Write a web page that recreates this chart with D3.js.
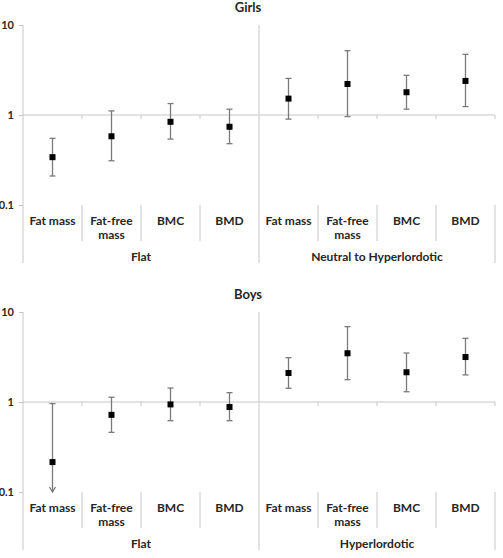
<!DOCTYPE html>
<html><head><meta charset="utf-8">
<script src="https://cdn.jsdelivr.net/npm/d3@7"></script>
<style>
body{margin:0;background:#fff;}
text{font-family:Lato,"Open Sans",sans-serif;font-weight:bold;fill:#262626;}
</style></head>
<body><svg id="c" width="503" height="558"></svg>
<script>
const categories = ["Fat mass", "Fat-free mass", "BMC", "BMD"];
const yTicks = [0.1, 1, 10];
const tickLabels = ["0.1", "1", "10"];

const girlsGroups = ["Flat", "Neutral to Hyperlordotic"];
const girlsOR    = [0.34, 0.58, 0.84, 0.74, 1.52, 2.21, 1.79, 2.39];
const girlsLow   = [0.21, 0.31, 0.54, 0.48, 0.90, 0.96, 1.16, 1.24];
const girlsHigh  = [0.55, 1.11, 1.34, 1.16, 2.55, 5.18, 2.76, 4.72];
const girlsArrow = [false, false, false, false, false, false, false, false];

const boysGroups = ["Flat", "Hyperlordotic"];
const boysOR    = [0.215, 0.72, 0.94, 0.88, 2.10, 3.48, 2.14, 3.16];
const boysLow   = [0.10, 0.46, 0.62, 0.62, 1.42, 1.77, 1.30, 2.00];
const boysHigh  = [0.96, 1.13, 1.43, 1.27, 3.11, 6.88, 3.50, 5.10];
const boysArrow = [true, false, false, false, false, false, false, false];

const svg = d3.select("#c");

function panel(title, groups, or, lo, hi, arrow, top) {
  const g = svg.append("g");
  const x0 = 23, x1 = 495;
  const keys = [];
  groups.forEach(gr => categories.forEach(c => keys.push(gr + "|" + c)));
  const x = d3.scaleBand().domain(keys).range([x0, x1]).padding(0);
  const y = d3.scaleLog().domain([0.1, 10]).range([top + 180, top]);
  const bottom = y(0.1);
  const grey = "#c6c6c6";
  const eb = "#7a7a7a";

  // title
  g.append("text").attr("x", 248).attr("y", top - 13).attr("text-anchor","middle")
    .style("font-size","13px").text(title);

  // y axis
  const yAxis = d3.axisLeft(y).tickValues(yTicks).tickFormat((d,i)=>tickLabels[i]).tickSize(4).tickPadding(5);
  const ya = g.append("g").attr("transform",`translate(${x0},0)`).call(yAxis);
  ya.select(".domain").remove();
  ya.selectAll("line").attr("stroke",grey);
  ya.selectAll("text").style("font-size","11px").style("font-family","Lato, sans-serif").style("font-weight","bold").attr("fill","#262626");
  g.append("line").attr("x1",x0).attr("x2",x0).attr("y1",top).attr("y2",bottom+58).attr("stroke",grey);

  // horizontal line at 1 with ticks
  g.append("line").attr("x1",x0).attr("x2",x1).attr("y1",y(1)).attr("y2",y(1)).attr("stroke",grey);
  keys.forEach((k,i)=>{ if(i>0 && i%4!==0){
    g.append("line").attr("x1",x(k)).attr("x2",x(k)).attr("y1",y(1)).attr("y2",y(1)+4).attr("stroke",grey);
  }});
  g.append("line").attr("x1",x1).attr("x2",x1).attr("y1",y(1)).attr("y2",y(1)+4).attr("stroke",grey);
  const mid = x(keys[4]);
  g.append("line").attr("x1",mid).attr("x2",mid).attr("y1",top).attr("y2",bottom+58).attr("stroke",grey);
  g.append("line").attr("x1",x1).attr("x2",x1).attr("y1",bottom).attr("y2",bottom+58).attr("stroke",grey);
  keys.forEach((k,i)=>{ if(i%4!==0){
    g.append("line").attr("x1",x(k)).attr("x2",x(k)).attr("y1",bottom).attr("y2",bottom+36).attr("stroke",grey);
  }});

  // category labels
  keys.forEach((k,i)=>{
    const c = categories[i%4];
    const cx = x(k) + x.bandwidth()/2;
    const t = g.append("text").attr("x",cx).attr("text-anchor","middle").style("font-size","12px");
    if (c === "Fat-free mass") {
      t.append("tspan").attr("x",cx).attr("y",bottom+20).text("Fat-free");
      t.append("tspan").attr("x",cx).attr("y",bottom+34).text("mass");
    } else {
      t.attr("y",bottom+20).text(c);
    }
  });
  groups.forEach((gr,i)=>{
    const a = x(keys[i*4]), b = x(keys[i*4+3]) + x.bandwidth();
    g.append("text").attr("x",(a+b)/2).attr("y",bottom+56).attr("text-anchor","middle").style("font-size","12px").text(gr);
  });

  // error bars
  keys.forEach((k,i)=>{
    const cx = x(k) + x.bandwidth()/2;
    g.append("line").attr("x1",cx).attr("x2",cx).attr("y1",y(hi[i])).attr("y2",y(lo[i]))
      .attr("stroke",eb).attr("stroke-width",1.3);
    g.append("line").attr("x1",cx-3).attr("x2",cx+3).attr("y1",y(hi[i])).attr("y2",y(hi[i])).attr("stroke",eb).attr("stroke-width",1.3);
    if (arrow[i]) {
      const yl = y(lo[i]);
      g.append("path").attr("d",`M${cx-3},${yl-5} L${cx},${yl} L${cx+3},${yl-5}`)
        .attr("fill","none").attr("stroke",eb).attr("stroke-width",1.3);
    } else {
      g.append("line").attr("x1",cx-3).attr("x2",cx+3).attr("y1",y(lo[i])).attr("y2",y(lo[i])).attr("stroke",eb).attr("stroke-width",1.3);
    }
    g.append("rect").attr("x",cx-3).attr("y",y(or[i])-3).attr("width",6).attr("height",6).attr("fill","#000");
  });
}

panel("Girls", girlsGroups, girlsOR, girlsLow, girlsHigh, girlsArrow, 25);
panel("Boys", boysGroups, boysOR, boysLow, boysHigh, boysArrow, 312);
</script></body></html>
